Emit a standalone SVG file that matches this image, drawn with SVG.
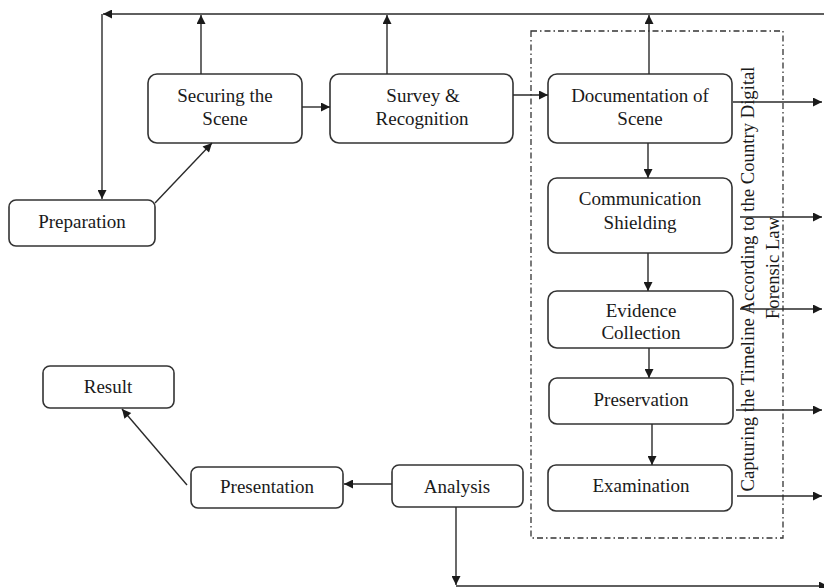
<svg xmlns="http://www.w3.org/2000/svg" width="824" height="588" viewBox="0 0 824 588">
<defs>
<marker id="ah" viewBox="0 0 10 10" refX="10" refY="5" markerWidth="11" markerHeight="9" orient="auto" markerUnits="userSpaceOnUse"><path d="M0,0 L10,5 L0,10 z" fill="#1a1a1a"/></marker>
<style>
.box{fill:#fff;stroke:#333;stroke-width:1.6}
.t{font-family:"Liberation Serif","Times New Roman",serif;font-size:19px;fill:#1a1a1a;text-anchor:middle}
.v{font-family:"Liberation Serif","Times New Roman",serif;font-size:18.7px;fill:#1a1a1a;text-anchor:middle}
.c{fill:none;stroke:#2a2a2a;stroke-width:1.4;marker-end:url(#ah)}
.dd{fill:none;stroke:#333;stroke-width:1.3;stroke-dasharray:6 3 1.5 3}
</style>
</defs>
<rect width="824" height="588" fill="#fff"/>
<rect class="dd" x="531" y="31" width="252" height="507"/>
<g id="preparation"><rect class="box" x="9" y="200" width="146" height="46" rx="7"/><text class="t" x="82" y="228">Preparation</text></g>
<g id="securing"><rect class="box" x="148" y="74" width="154" height="69" rx="9"/><text class="t" x="225" y="102">Securing the</text><text class="t" x="225" y="125">Scene</text></g>
<g id="survey"><rect class="box" x="330" y="74" width="183" height="69" rx="9"/><text class="t" x="423" y="102">Survey &amp;</text><text class="t" x="422" y="125">Recognition</text></g>
<g id="documentation"><rect class="box" x="548" y="74" width="184" height="69" rx="9"/><text class="t" x="640" y="102">Documentation of</text><text class="t" x="640" y="125">Scene</text></g>
<g id="communication"><rect class="box" x="548" y="178" width="184" height="75" rx="9"/><text class="t" x="640" y="205">Communication</text><text class="t" x="640" y="229">Shielding</text></g>
<g id="evidence"><rect class="box" x="548" y="291" width="185" height="57" rx="9"/><text class="t" x="641" y="317">Evidence</text><text class="t" x="641" y="339">Collection</text></g>
<g id="preservation"><rect class="box" x="549" y="378" width="184" height="46" rx="8"/><text class="t" x="641" y="406">Preservation</text></g>
<g id="examination"><rect class="box" x="548" y="465" width="184" height="46" rx="8"/><text class="t" x="641" y="492">Examination</text></g>
<g id="analysis"><rect class="box" x="392" y="465" width="131" height="42" rx="7"/><text class="t" x="457" y="493">Analysis</text></g>
<g id="presentation"><rect class="box" x="191" y="467" width="152" height="41" rx="7"/><text class="t" x="267" y="493">Presentation</text></g>
<g id="result"><rect class="box" x="43" y="366" width="131" height="42" rx="7"/><text class="t" x="108" y="393">Result</text></g>
<g id="timeline-label">
<text class="v" transform="translate(754,279) rotate(-90)">Capturing the Timeline According to the Country Digital</text>
<text class="v" transform="translate(779,268) rotate(-90)">Forensic Law</text>
</g>
<g id="connectors">
<path class="c" d="M824,14 H103"/>
<path class="c" d="M102,14 V199"/>
<path class="c" d="M201,74 V15"/>
<path class="c" d="M387,74 V15"/>
<path class="c" d="M649,74 V15"/>
<path class="c" d="M155,203 L212,143"/>
<path class="c" d="M302,107 H330"/>
<path class="c" d="M513,95 H548"/>
<path class="c" d="M733,102 H822"/>
<path class="c" d="M648,143 V178"/>
<path class="c" d="M740,217 H822"/>
<path class="c" d="M648,253 V291"/>
<path class="c" d="M740,309 H822"/>
<path class="c" d="M649,348 V378"/>
<path class="c" d="M736,410 H822"/>
<path class="c" d="M652,424 V465"/>
<path class="c" d="M737,496 H822"/>
<path class="c" d="M392,484 H344"/>
<path class="c" d="M187,485 L122,409"/>
<path class="c" d="M456,507 V585"/>
<path class="c" d="M456,586 H828"/>
</g>
</svg>
